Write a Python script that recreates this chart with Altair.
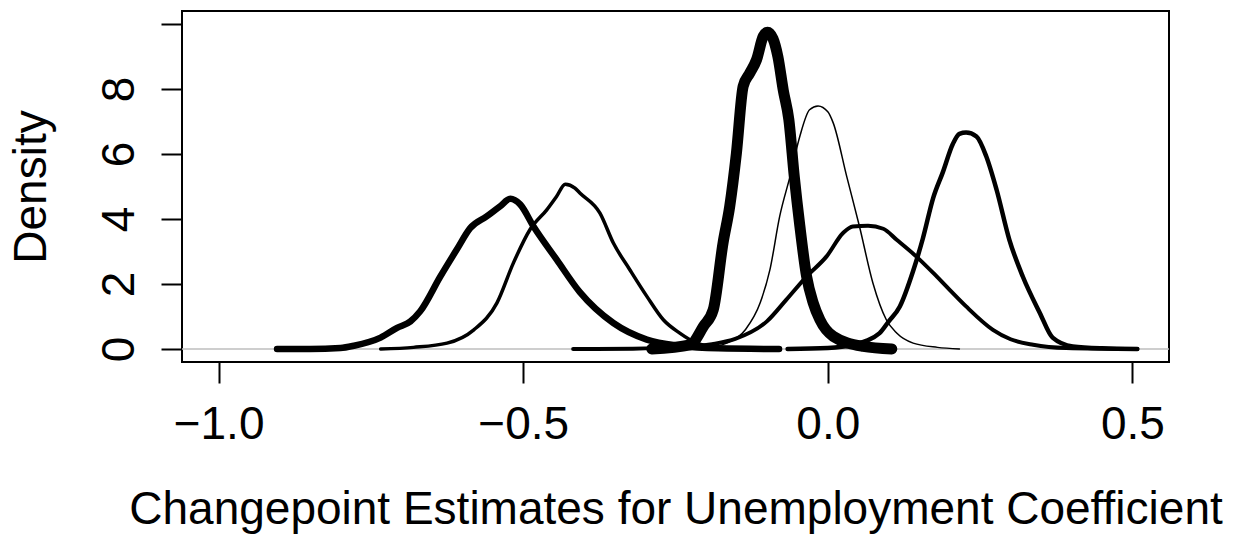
import altair as alt
import pandas as pd

# Curve A (thick, peak near -0.52)
a_x = [-0.904, -0.85, -0.80, -0.778, -0.734, -0.707, -0.685, -0.669, -0.636, -0.609, -0.587, -0.560,
       -0.538, -0.521, -0.505, -0.483, -0.445, -0.407, -0.352, -0.297, -0.243, -0.18, -0.08]
a_y = [0, 0.0, 0.03, 0.1, 0.35, 0.65, 0.85, 1.16, 2.23, 3.06, 3.72, 4.08,
       4.39, 4.62, 4.45, 3.77, 2.75, 1.75, 0.80, 0.29, 0.1, 0.02, 0]

# Curve B (medium, peak near -0.43)
b_x = [-0.734, -0.68, -0.625, -0.581, -0.543, -0.516, -0.489, -0.461, -0.445, -0.431, -0.415,
       -0.407, -0.374, -0.352, -0.325, -0.297, -0.270, -0.243, -0.215, -0.18, -0.13]
b_y = [0, 0.05, 0.18, 0.59, 1.42, 2.65, 3.67, 4.29, 4.70, 5.07, 4.95,
       4.8, 4.18, 3.26, 2.44, 1.62, 0.9, 0.49, 0.18, 0.05, 0]

# Curve C (very thick, peak near -0.10)
c_x = [-0.289, -0.226, -0.204, -0.188, -0.172, -0.161, -0.150, -0.139, -0.128, -0.117, -0.106,
       -0.099, -0.090, -0.082, -0.073, -0.064, -0.055, -0.046, -0.035, -0.024, -0.013, 0.009,
       0.058, 0.105]
c_y = [0, 0.13, 0.70, 1.21, 3.26, 4.39, 6.03, 8.08, 8.49, 8.9, 9.62,
       9.75, 9.55, 9.0, 7.95, 7.06, 5.3, 3.8, 2.25, 1.42, 0.9, 0.39,
       0.08, 0]

# Curve D (thin, peak near -0.02)
d_x = [-0.25, -0.20, -0.166, -0.135, -0.111, -0.095, -0.079, -0.062, -0.046, -0.030, -0.016,
       0.000, 0.009, 0.031, 0.052, 0.074, 0.096, 0.113, 0.140, 0.18, 0.216]
d_y = [0, 0.03, 0.18, 0.6, 1.42, 2.44, 4.08, 5.31, 6.54, 7.36, 7.48,
       7.3, 6.95, 5.31, 3.77, 2.03, 0.90, 0.49, 0.18, 0.05, 0]

# Curve E (medium, wide, peak near 0.07)
e_x = [-0.418, -0.32, -0.25, -0.19, -0.152, -0.1, -0.068, -0.035, -0.002, 0.025, 0.041, 0.066,
       0.091, 0.113, 0.145, 0.173, 0.200, 0.227, 0.271, 0.30, 0.337, 0.391, 0.508]
e_y = [0, 0.01, 0.05, 0.15, 0.31, 0.85, 1.52, 2.23, 2.85, 3.57, 3.77, 3.79,
       3.70, 3.36, 2.85, 2.34, 1.82, 1.31, 0.59, 0.3, 0.13, 0.03, 0]

# Curve F (medium-thick, peak near 0.23)
f_x = [-0.066, 0.0, 0.041, 0.085, 0.100, 0.118, 0.140, 0.156, 0.173, 0.189, 0.205, 0.216, 0.227,
       0.244, 0.260, 0.277, 0.298, 0.320, 0.348, 0.369, 0.402, 0.45, 0.508]
f_y = [0, 0.03, 0.13, 0.49, 0.85, 1.3, 2.4, 3.4, 4.65, 5.45, 6.3, 6.62, 6.66,
       6.54, 5.93, 4.90, 3.36, 2.23, 1.11, 0.35, 0.08, 0.02, 0]

x_ticks = [-1.0, -0.5, 0.0, 0.5]
y_ticks = [0, 2, 4, 6, 8, 10]

FONT = "Liberation Sans"

x_scale = alt.Scale(domain=[-1.06, 0.56], nice=False, zero=False)
y_scale = alt.Scale(domain=[-0.4, 10.4], nice=False, zero=False)

x_axis = alt.Axis(
    values=x_ticks, format=".1f", title="Changepoint Estimates for Unemployment Coefficient",
    domain=False, grid=False, ticks=True, tickSize=21, tickWidth=2, tickColor="black",
    labelFont=FONT, labelFontSize=46, labelColor="black", labelPadding=55,
    labelBaseline="alphabetic", labelAlign="center", labelFlush=False, labelOverlap=False,
    titleFont=FONT, titleFontSize=46, titleFontWeight="normal", titleColor="black",
    titleBaseline="alphabetic", titleY=161, titleAlign="center",
)
y_axis = alt.Axis(
    values=y_ticks, format="d", title="Density",
    labelExpr="datum.value == 10 ? '' : datum.label",
    domain=False, grid=False, ticks=True, tickSize=21, tickWidth=2, tickColor="black",
    labelFont=FONT, labelFontSize=46, labelColor="black", labelPadding=28,
    labelAngle=270, labelAlign="center", labelBaseline="alphabetic",
    labelFlush=False, labelOverlap=False,
    titleFont=FONT, titleFontSize=46, titleFontWeight="normal", titleColor="black",
    titleAngle=270, titleBaseline="alphabetic", titleAlign="center", titleX=-137, titleY=175.5,
)

series = [
    (a_x, a_y, 6.5),
    (b_x, b_y, 3.5),
    (c_x, c_y, 11.0),
    (d_x, d_y, 1.5),
    (e_x, e_y, 4.0),
    (f_x, f_y, 4.5),
]

frames = []
for k, (xs, ys, w) in enumerate(series):
    frames.append(pd.DataFrame({"x": xs, "y": ys, "i": list(range(len(xs))),
                                "s": [k] * len(xs), "w": [w] * len(xs)}))
df = pd.concat(frames, ignore_index=True)

zero_df = pd.DataFrame({"x": [-1.06, 0.56], "y": [0, 0]})
zero_line = alt.Chart(zero_df).mark_line(color="#BEBEBE", strokeWidth=1.5).encode(
    x=alt.X("x:Q", scale=x_scale, axis=x_axis),
    y=alt.Y("y:Q", scale=y_scale, axis=y_axis),
)

lines = alt.Chart(df).mark_line(
    color="black", interpolate="monotone", strokeCap="round", strokeJoin="round"
).encode(
    x=alt.X("x:Q", scale=x_scale, axis=x_axis),
    y=alt.Y("y:Q", scale=y_scale, axis=y_axis),
    detail="s:N",
    strokeWidth=alt.StrokeWidth("w:Q", scale=None, legend=None),
    order=alt.Order("i:Q"),
)

chart = alt.layer(zero_line, lines).properties(
    width=987, height=351,
    autosize=alt.AutoSizeParams(type="none"),
    padding={"left": 182, "top": 11, "right": 80, "bottom": 174},
    background="white",
).configure_view(stroke="black", strokeWidth=2)

chart.save("out.html", embed_options={"renderer": "svg", "actions": False})
